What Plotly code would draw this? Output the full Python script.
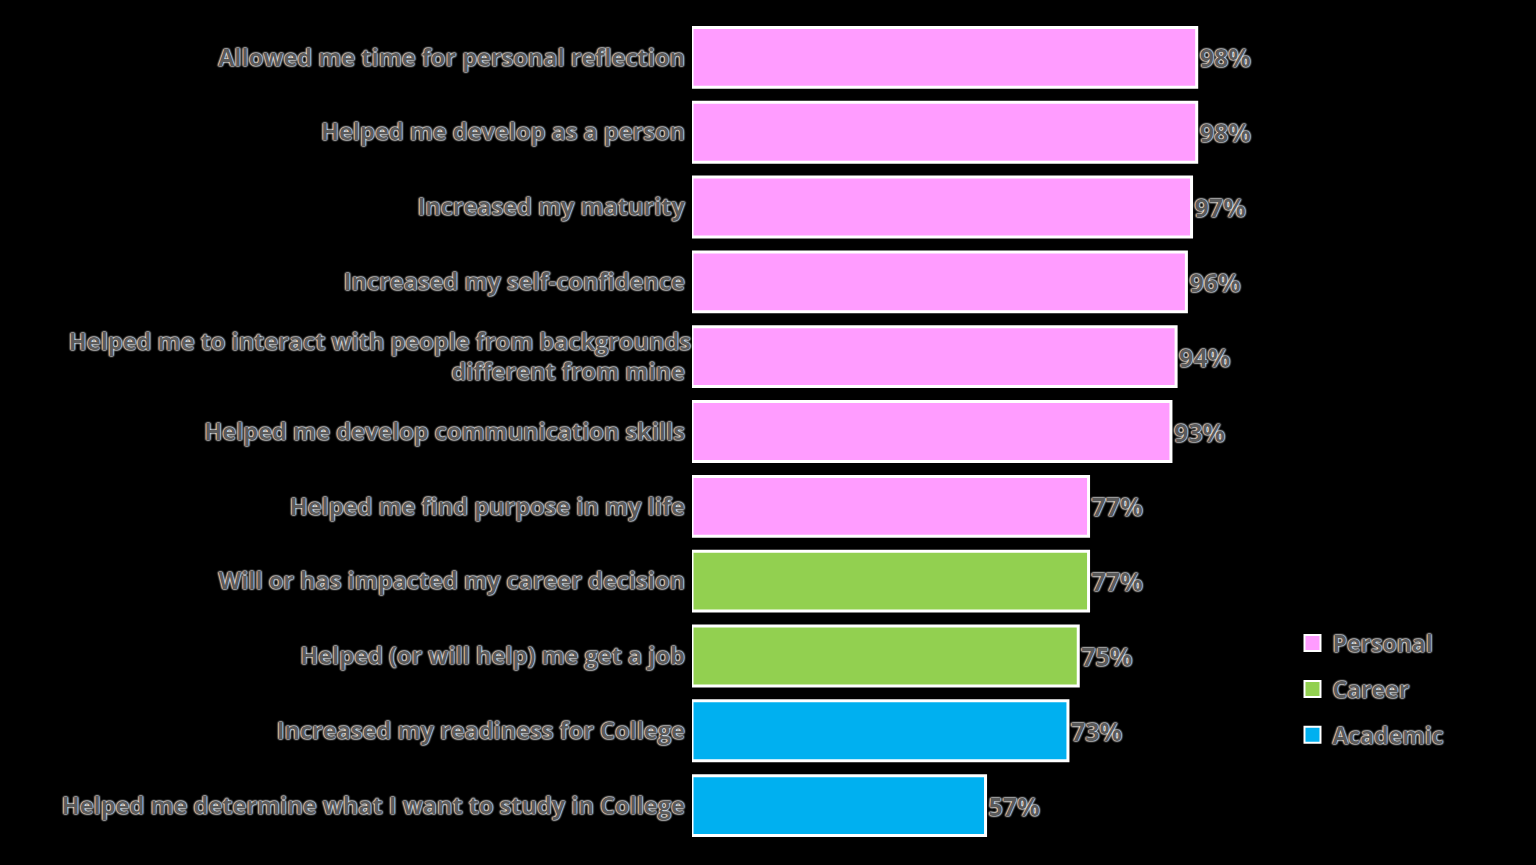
"""
Survey outcomes: horizontal bar chart by impact category
"""
import plotly.graph_objects as go

statements = [
    "Allowed me time for personal reflection",
    "Helped me develop as a person",
    "Increased my maturity",
    "Increased my self-confidence",
    "Helped me to interact with people from backgrounds<br>different from mine",
    "Helped me develop communication skills",
    "Helped me find purpose in my life",
    "Will or has impacted my career decision",
    "Helped (or will help) me get a job",
    "Increased my readiness for College",
    "Helped me determine what I want to study in College",
]
percents = [98, 98, 97, 96, 94, 93, 77, 77, 75, 73, 57]
groups = [
    "Personal", "Personal", "Personal", "Personal", "Personal", "Personal",
    "Personal", "Career", "Career", "Academic", "Academic",
]
group_names = ["Personal", "Career", "Academic"]
group_colors = {"Personal": "#FF9CFF", "Career": "#92D050", "Academic": "#00B0F0"}

HALO = "0px 0px 2px white, 0px 0px 2px white, 0px 0px 2px white"
TEXT_GREY = "#5a5a5a"
FONT = "Open Sans, Lato, sans-serif"

fig = go.Figure()

for g in group_names:
    ys = [s for s, grp in zip(statements, groups) if grp == g]
    xs = [p for p, grp in zip(percents, groups) if grp == g]
    fig.add_trace(
        go.Bar(
            x=xs,
            y=ys,
            orientation="h",
            name=g,
            showlegend=False,
            marker=dict(color=group_colors[g], line=dict(color="white", width=3)),
            text=[f"{v}%" for v in xs],
            textposition="outside",
            textfont=dict(size=25, color=TEXT_GREY, shadow=HALO, weight="bold"),
            cliponaxis=False,
        )
    )

# legend entries: square markers, bigger than the default bar swatch
for g in group_names:
    fig.add_trace(
        go.Scatter(
            x=[None],
            y=[None],
            mode="markers",
            name=g,
            legendgroup=g,
            marker=dict(
                symbol="square",
                size=16,
                color=group_colors[g],
                line=dict(color="white", width=2),
            ),
        )
    )

fig.update_layout(
    width=1536,
    height=865,
    paper_bgcolor="black",
    plot_bgcolor="black",
    barmode="overlay",
    bargap=0.2,
    margin=dict(l=692, r=329, t=20, b=22, autoexpand=False),
    font=dict(family=FONT, color=TEXT_GREY),
    showlegend=True,
    legend=dict(
        x=1.166,
        y=0.187,
        xanchor="left",
        yanchor="middle",
        bgcolor="rgba(0,0,0,0)",
        font=dict(size=23, color=TEXT_GREY, shadow=HALO, weight="bold"),
        traceorder="grouped",
        tracegroupgap=13,
        itemsizing="trace",
    ),
)
fig.update_xaxes(range=[0, 100], visible=False, showgrid=False, zeroline=False)
fig.update_yaxes(
    categoryorder="array",
    categoryarray=statements[::-1],
    range=[-0.5, len(statements) - 0.5],
    automargin=False,
    showgrid=False,
    showline=False,
    ticks="",
    ticksuffix=" ",
    tickfont=dict(size=23.5, color=TEXT_GREY, shadow=HALO, weight="bold"),
)

fig.write_html(
    "out.html",
    config={"displayModeBar": False},
    post_script="document.body.style.margin='0';document.body.style.background='black';",
)
